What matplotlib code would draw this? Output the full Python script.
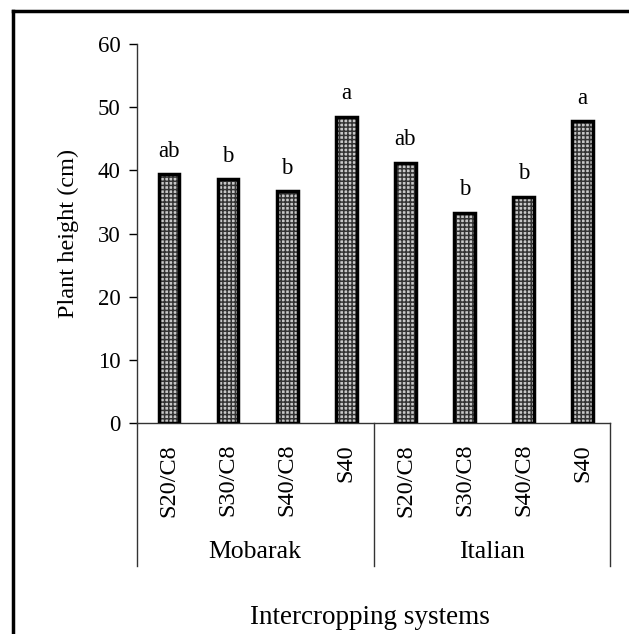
import matplotlib
matplotlib.use("Agg")
import matplotlib.pyplot as plt
from matplotlib.lines import Line2D
import numpy as np

categories = ["S20/C8", "S30/C8", "S40/C8", "S40", "S20/C8", "S30/C8", "S40/C8", "S40"]
groups = ["Mobarak", "Italian"]
heights = [39.4, 38.6, 36.7, 48.5, 41.2, 33.3, 35.8, 47.8]
letters = ["ab", "b", "b", "a", "ab", "b", "b", "a"]
yticks = [0, 10, 20, 30, 40, 50, 60]

plt.rcParams['font.family'] = ['Liberation Serif', 'DejaVu Serif']
plt.rcParams['hatch.linewidth'] = 1.1

W, H = 629, 634
fig = plt.figure(figsize=(W / 100, H / 100), dpi=100)
x0, x1, y0, y1 = 137, 610, 423, 44
ax = fig.add_axes([x0 / W, 1 - y0 / H, (x1 - x0) / W, (y0 - y1) / H])

x = np.arange(len(categories))
ax.bar(x + 0.04, heights, width=0.35, color='#c8c8c8', hatch='++++',
       edgecolor='#333333', linewidth=0, zorder=2)
ax.bar(x + 0.04, heights, width=0.35, color='none', edgecolor='black',
       linewidth=2.5, zorder=3)

for xi, h, lab in zip(x, heights, letters):
    ax.annotate(lab, (xi + 0.04, h), xytext=(0, 9), textcoords='offset points',
                ha='center', va='bottom', fontsize=16.5)

ax.set_xlim(-0.5, len(categories) - 0.5)
ax.set_ylim(0, 60)
ax.set_yticks(yticks)
ax.tick_params(axis='y', labelsize=16.5, length=6, width=1, direction='out', pad=6)
ax.set_xticks([])
for s in ['top', 'right']:
    ax.spines[s].set_visible(False)
ax.spines['left'].set_linewidth(1)
ax.spines['bottom'].set_linewidth(1)
ax.spines['bottom'].set_color('#333333')
ax.spines['left'].set_color('#333333')

trans = ax.get_xaxis_transform()
low = -(566 - 423) / (423 - 44)
for xv in [-0.5, 3.5, 7.5]:
    ax.add_line(Line2D([xv, xv], [0, low], transform=trans, color='#333333',
                       lw=1, clip_on=False))

lab_y = -(444 - 423) / (423 - 44)
for xi, c in zip(x, categories):
    ax.text(xi + 0.04, lab_y, c, transform=trans, rotation=90, ha='center',
            va='top', fontsize=17.5)

grp_y = -(552 - 423) / (423 - 44)
for gi, g in enumerate(groups):
    ax.text(gi * 4 + 1.5, grp_y, g, transform=trans, ha='center', va='center',
            fontsize=18.5)

fig.text(370 / W, 1 - 618 / H, "Intercropping systems", ha='center', va='center',
         fontsize=19.5)
fig.text(68 / W, 1 - 233 / H, "Plant height (cm)", ha='center', va='center',
         rotation=90, fontsize=17.5)

fig.add_artist(Line2D([13 / W, 1], [1 - 11 / H, 1 - 11 / H], color='black', lw=2.5,
                      transform=fig.transFigure))
fig.add_artist(Line2D([13 / W, 13 / W], [0, 1 - 11 / H], color='black', lw=2.5,
                      transform=fig.transFigure))

fig.savefig("out.png", dpi=100)
